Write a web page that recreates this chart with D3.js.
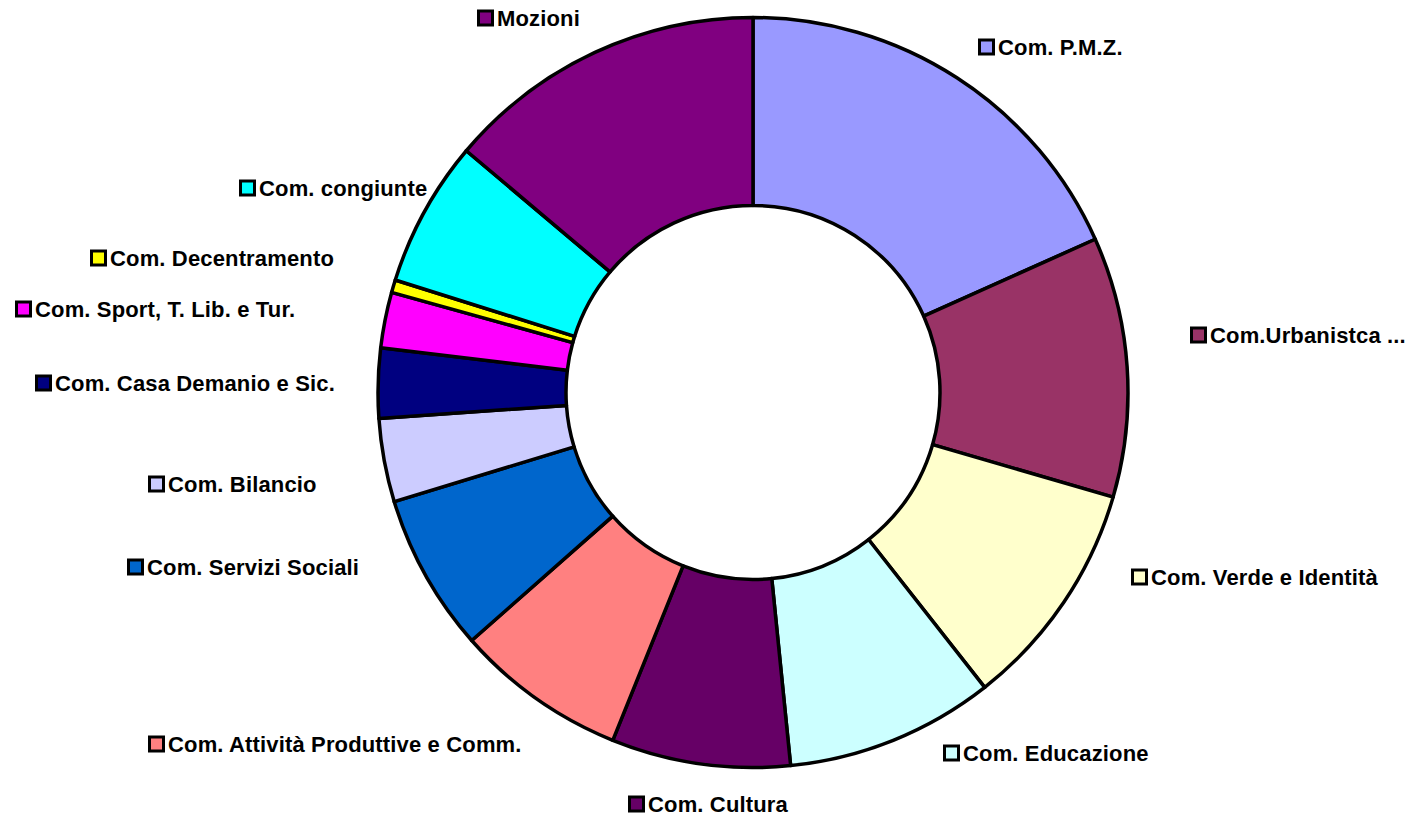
<!DOCTYPE html>
<html>
<head>
<meta charset="utf-8">
<script src="https://cdn.jsdelivr.net/npm/d3@7"></script>
<style>
    html, body { margin: 0; padding: 0; background: #ffffff; }
    svg { display: block; }
</style>
</head>
<body>
<div id="chart"></div>
<script>

// categories, clockwise from 12 o'clock
let categories = [
    "Com. P.M.Z.",
    "Com.Urbanistca ...",
    "Com. Verde e Identità",
    "Com. Educazione",
    "Com. Cultura",
    "Com. Attività Produttive e Comm.",
    "Com. Servizi Sociali",
    "Com. Bilancio",
    "Com. Casa Demanio e Sic.",
    "Com. Sport, T. Lib. e Tur.",
    "Com. Decentramento",
    "Com. congiunte",
    "Mozioni"
];

// share of each slice (%)
let values = [18.3, 11.2, 9.9, 9.0, 7.7, 7.4, 6.8, 3.6, 3.0, 2.4, 0.55, 6.3, 13.85];

let colors = [
    "#9999ff", "#993366", "#ffffcc", "#ccffff", "#660066", "#ff8080", "#0066cc",
    "#ccccff", "#000080", "#ff00ff", "#ffff00", "#00ffff", "#800080"
];

// label placement (left edge of key square, vertical centre)
let labelPos = [
    [978, 47], [1190, 335], [1131, 577], [943, 753], [628, 804], [148, 744], [127, 567],
    [148, 484], [35, 383], [15, 309], [90, 258], [239, 188], [477, 18]
];


function renderDonut() {

    let width = 1411;
    let height = 815;
    let cx = 753;
    let cy = 392.5;
    let outerR = 375;
    let innerR = 187;

    let svg = d3.select("#chart").append("svg")
        .attr("width", width)
        .attr("height", height);

    let data = categories.map((name, i) => ({ name, value: values[i], color: colors[i], pos: labelPos[i] }));

    let pie = d3.pie()
        .sort(null)
        .value(d => d.value);

    let arc = d3.arc()
        .innerRadius(innerR)
        .outerRadius(outerR);

    let gSlices = svg.append("g")
        .attr("transform", `translate(${cx},${cy})`);

    gSlices.selectAll("path")
        .data(pie(data))
        .join("path")
        .attr("d", arc)
        .attr("fill", d => d.data.color)
        .attr("stroke", "#000")
        .attr("stroke-width", 3.5)
        .attr("stroke-linejoin", "round");

    let gLabels = svg.append("g");

    let labels = gLabels.selectAll("g")
        .data(data)
        .join("g")
        .attr("transform", d => `translate(${d.pos[0]},${d.pos[1]})`);

    labels.append("rect")
        .attr("x", 1.5)
        .attr("y", -7)
        .attr("width", 14)
        .attr("height", 14)
        .attr("fill", d => d.color)
        .attr("stroke", "#000")
        .attr("stroke-width", 3);

    labels.append("text")
        .text(d => d.name)
        .attr("x", 20)
        .attr("y", 7.5)
        .attr("fill", "#000")
        .attr("font-family", "'Liberation Sans', Arial, sans-serif")
        .attr("font-size", "22px")
        .attr("font-weight", "700")
        .style("letter-spacing", "0.15px");
}

renderDonut();
</script>
</body>
</html>
